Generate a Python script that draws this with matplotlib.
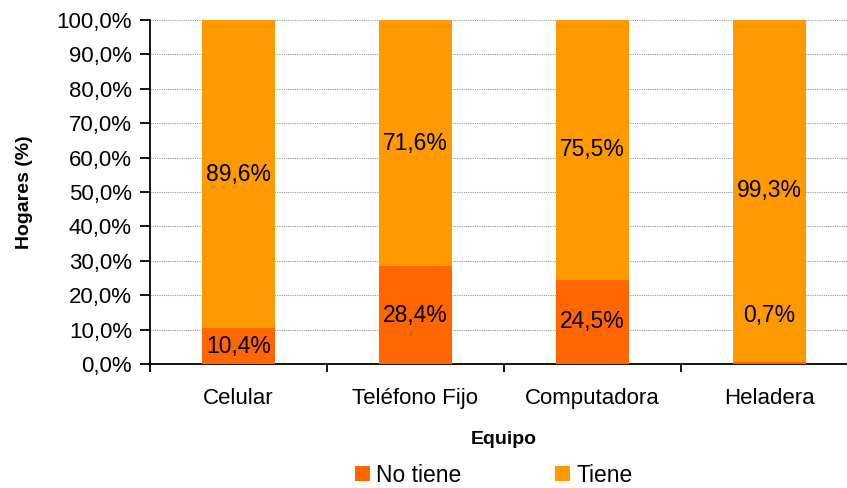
import matplotlib.pyplot as plt
import numpy as np

plt.rcParams['font.family'] = ['Liberation Sans', 'DejaVu Sans']

# data
equipos = ["Celular", "Teléfono Fijo", "Computadora", "Heladera"]
no_tiene = [10.4, 28.4, 24.5, 0.7]
tiene = [89.6, 71.6, 75.5, 99.3]

c_no = "#FF6600"
c_si = "#FF9900"

fig = plt.figure(figsize=(8.47, 4.88), dpi=100)
ax = fig.add_axes([150 / 847, 1 - 364 / 488, 708 / 847, 344 / 488])

x = np.arange(len(equipos))
w = 0.41
ax.bar(x, no_tiene, w, color=c_no, label="No tiene", zorder=3)
ax.bar(x, tiene, w, bottom=no_tiene, color=c_si, label="Tiene", zorder=3)

fmt = lambda v: f"{v:.1f}%".replace(".", ",")
for i in range(len(equipos)):
    y_lo = no_tiene[i] / 2 if no_tiene[i] > 5 else 14
    ax.text(x[i], y_lo, fmt(no_tiene[i]), ha="center", va="center", fontsize=16.5, zorder=4)
    ax.text(x[i], no_tiene[i] + tiene[i] / 2, fmt(tiene[i]), ha="center", va="center",
            fontsize=16.5, zorder=4)

ax.set_xlim(-0.5, len(equipos) - 0.5)
ax.set_ylim(0, 100)
ax.set_yticks(np.arange(0, 101, 10))
ax.set_yticklabels([fmt(v) for v in range(0, 101, 10)], fontsize=16)
ax.yaxis.grid(True, color="#999999", linestyle=(0, (1, 1)), linewidth=0.8, zorder=0)

ax.set_xticks(x)
ax.set_xticklabels(equipos, fontsize=16)
ax.set_xticks(np.arange(-0.5, len(equipos), 1), minor=True)
ax.tick_params(axis="x", which="major", length=0, pad=17)
ax.tick_params(axis="x", which="minor", length=6, width=1.3, direction="out")
ax.tick_params(axis="y", length=7, width=1.3, direction="out", pad=6)

for s in ["top", "right"]:
    ax.spines[s].set_visible(False)
ax.spines["left"].set_linewidth(1.3)
ax.spines["bottom"].set_linewidth(1.3)

ax.set_ylabel("Hogares (%)", fontsize=14, fontweight="bold", labelpad=17)
ax.set_xlabel("Equipo", fontsize=14, fontweight="bold", labelpad=16)

fig.legend(loc="center", bbox_to_anchor=(494 / 847, 1 - 475 / 488), ncol=2, frameon=False,
           fontsize=16.5, handlelength=0.65, handleheight=0.65, handletextpad=0.26,
           columnspacing=4.1, borderaxespad=0, borderpad=0)

fig.savefig("out.png", dpi=100)
